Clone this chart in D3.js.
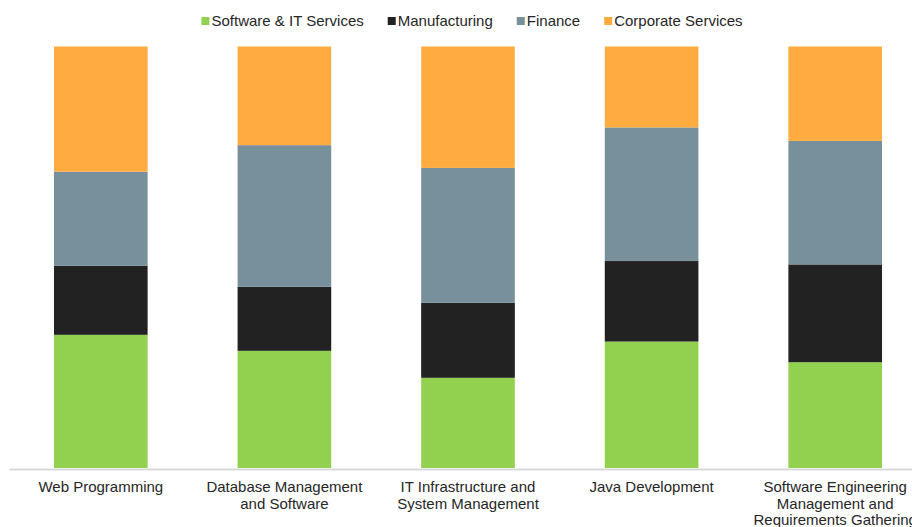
<!DOCTYPE html>
<html>
<head>
<meta charset="utf-8">
<script src="https://cdn.jsdelivr.net/npm/d3@7"></script>
<style>
  body { margin: 0; background: #fff; }
  svg { display: block; font-family: "Liberation Sans", Arial, sans-serif; }
</style>
</head>
<body>
<svg id="chart" width="912" height="527"></svg>
<script>
// categories, with the line breaks used under the axis
var categories = ["Web Programming", "Database Management and Software", "IT Infrastructure and System Management", "Java Development", "Software Engineering Management and Requirements Gathering"];
var tickLines = [
  ["Web Programming"],
  ["Database Management", "and Software"],
  ["IT Infrastructure and", "System Management"],
  ["Java Development"],
  ["Software Engineering", "Management and", "Requirements Gathering"]
];

// share of each industry (%)
var seriesNames = ["Software & IT Services", "Manufacturing", "Finance", "Corporate Services"];
var software = [31.6, 27.8, 21.4, 30.0, 25.1];
var manufacturing = [16.4, 15.2, 17.8, 19.1, 23.2];
var finance = [22.3, 33.6, 32.0, 31.7, 29.3];
var corporate = [29.7, 23.4, 28.8, 19.2, 22.4];
var colors = ["#92d050", "#222222", "#78909c", "#ffab40"];

var svg = d3.select("#chart"),
    width = +svg.attr("width"),
    height = +svg.attr("height");

var data = categories.map(function(c, i) {
  return {
    name: c,
    "Software & IT Services": software[i],
    "Manufacturing": manufacturing[i],
    "Finance": finance[i],
    "Corporate Services": corporate[i]
  };
});

var x = d3.scaleBand()
    .domain(categories)
    .range([9, 927])
    .paddingInner(0.49)
    .paddingOuter(0.245);

var y = d3.scaleLinear()
    .domain([0, 1])
    .range([468, 46.5]);

var z = d3.scaleOrdinal()
    .domain(seriesNames)
    .range(colors);

var stacked = d3.stack()
    .keys(seriesNames)
    .offset(d3.stackOffsetExpand)(data);

svg.append("g")
  .selectAll("g")
  .data(stacked)
  .enter().append("g")
    .attr("fill", function(d) { return z(d.key); })
  .selectAll("rect")
  .data(function(d) { return d; })
  .enter().append("rect")
    .attr("x", function(d) { return x(d.data.name); })
    .attr("y", function(d) { return y(d[1]); })
    .attr("height", function(d) { return y(d[0]) - y(d[1]); })
    .attr("width", x.bandwidth());

// x axis
var xAxis = svg.append("g")
    .attr("transform", "translate(0," + 469 + ")")
    .call(d3.axisBottom(x).tickSize(0).tickSizeOuter(0).tickFormat(""));

xAxis.select(".domain")
    .attr("stroke", "#d9d9d9")
    .attr("stroke-width", 2);

xAxis.selectAll(".tick text").remove();
xAxis.selectAll(".tick").each(function(d, i) {
  var t = d3.select(this).append("text")
      .attr("fill", "#262626")
      .attr("font-size", "15px")
      .attr("text-anchor", "middle");
  tickLines[i].forEach(function(line, j) {
    t.append("tspan")
        .attr("x", 0)
        .attr("y", 23 + j * 16.5)
        .text(line);
  });
});

// legend
var legend = svg.append("g").attr("transform", "translate(0,21)");
var items = legend.selectAll("g")
  .data(seriesNames)
  .enter().append("g");

items.append("rect")
    .attr("y", -4)
    .attr("width", 8)
    .attr("height", 8)
    .attr("fill", z);

items.append("text")
    .attr("x", 10)
    .attr("dy", "0.35em")
    .attr("font-size", "15px")
    .attr("fill", "#262626")
    .text(function(d) { return d; });

var gap = 24, offset = 0, starts = [];
items.each(function() {
  var w = this.getBBox().width;
  starts.push(offset);
  offset += w + gap;
});
var total = offset - gap;
var startX = 472 - total / 2;
items.attr("transform", function(d, i) { return "translate(" + (startX + starts[i]) + ",0)"; });
</script>
</body>
</html>
